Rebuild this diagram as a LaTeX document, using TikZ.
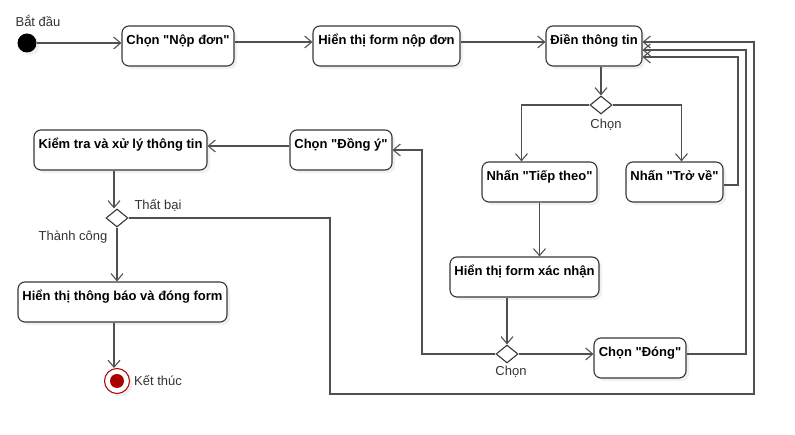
\documentclass[tikz,border=0pt]{standalone}
\usepackage{fontspec}
\setmainfont{Liberation Sans}
\usetikzlibrary{arrows.meta,shapes.geometric,shadows}
\definecolor{ln}{RGB}{80,80,80}
\definecolor{bd}{RGB}{55,55,55}
\definecolor{endred}{RGB}{170,0,0}
\newcommand\qd{\XeTeXglyph\XeTeXglyphindex "quotedbl"\relax}
\tikzset{
  actbox/.style={draw=bd, line width=1.1pt, rounded corners=7pt, fill=white,
    font=\fontsize{13}{15}\selectfont\bfseries, inner xsep=3pt, inner ysep=4pt,
    text height=14.5pt, text depth=17.5pt,
    drop shadow={opacity=0.12, shadow xshift=3pt, shadow yshift=-3pt}},
  dec/.style={draw=bd, line width=1.1pt, diamond, aspect=1.25, inner sep=0pt,
    minimum width=22pt, minimum height=18pt, fill=white},
  lbl/.style={font=\fontsize{13}{15}\selectfont, text=black!80, inner sep=0pt},
  flow/.style={draw=ln, line width=1.2pt, -{Straight Barb[length=7pt,width=12pt,line width=1.1pt]}},
}
\begin{document}
\begin{tikzpicture}[x=1pt,y=-1pt]
\useasboundingbox (0,0) rectangle (795,435);
% nodes
\node[circle, fill=black, minimum size=19pt, inner sep=0pt,
  drop shadow={opacity=0.12, shadow xshift=3pt, shadow yshift=-3pt}] (start) at (27,43) {};
\node[lbl] (startl) at (38,21) {Bắt đầu};
\node[actbox, minimum width=112pt] (nop) at (178,46) {Chọn \qd Nộp đơn\qd};
\node[actbox, minimum width=147pt] (hienform) at (386.5,46) {Hiển thị form nộp đơn};
\node[actbox, minimum width=96pt] (dien) at (594,46) {Điền thông tin};
\node[dec] (d1) at (601,105) {};
\node[lbl] (d1l) at (606,125) {Chọn};
\node[actbox, minimum width=115pt] (tiep) at (539.5,182) {Nhấn \qd Tiếp theo\qd};
\node[actbox, minimum width=97pt] (trove) at (674.5,182) {Nhấn \qd Trở về\qd};
\node[actbox, minimum width=149pt] (xacnhan) at (524.5,277) {Hiển thị form xác nhận};
\node[dec] (d2) at (507,354) {};
\node[lbl] (d2l) at (511,372) {Chọn};
\node[actbox, minimum width=92pt] (dong) at (640,358) {Chọn \qd Đóng\qd};
\node[actbox, minimum width=102pt] (dongy) at (341,150) {Chọn \qd Đồng ý\qd};
\node[actbox, minimum width=173pt] (kiemtra) at (120.5,150) {Kiểm tra và xử lý thông tin};
\node[dec] (d3) at (117,218) {};
\node[lbl] (d3a) at (158,205) {Thất bại};
\node[lbl] (d3b) at (73,237) {Thành công};
\node[actbox, minimum width=209pt] (thongbao) at (122.5,302) {Hiển thị thông báo và đóng form};
\node[circle, draw=endred, line width=1pt, fill=white, minimum size=25pt, inner sep=0pt,
  drop shadow={opacity=0.12, shadow xshift=3pt, shadow yshift=-3pt}] (end) at (117,381) {};
\node[circle, fill=endred, minimum size=14pt, inner sep=0pt] at (end) {};
\node[lbl, anchor=west] (endl) at (134,381) {Kết thúc};
% coordinates for bends
\coordinate (c1) at (738,185);
\coordinate (c2) at (746,354);
\coordinate (c3) at (330,394);
\coordinate (c4) at (754,394);
% edges
\draw[flow] (start.east) -- (nop.west |- start.east);
\draw[flow] ([yshift=4pt]nop.east) -- ([yshift=4pt]hienform.west);
\draw[flow] ([yshift=4pt]hienform.east) -- ([yshift=4pt]dien.west);
\draw[flow] (dien.south -| d1) -- (d1.north);
\draw[flow] (d1.west) -| ([xshift=-18pt]tiep.north);
\draw[flow] (d1.east) -| ([xshift=7pt]trove.north);
\draw[flow] (trove.east |- c1) -- (c1) -- (c1 |- 0,57) -- (dien.east |- 0,57);
\draw[flow] (tiep.south) -- (tiep.south |- xacnhan.north);
\draw[flow] (xacnhan.south -| d2) -- (d2.north);
\draw[flow] (d2.east) -- (dong.west |- d2.east);
\draw[flow] (d2.west) -| (422,150) -- (dongy.east);
\draw[flow] (dong.east |- c2) -- (c2) -- (c2 |- 0,50) -- (dien.east |- 0,50);
\draw[flow] (dongy.west |- 0,146) -- (kiemtra.east |- 0,146);
\draw[flow] (kiemtra.south -| 114,0) -- (d3.north -| 114,0);
\draw[flow] (d3.south) -- (thongbao.north -| d3.south);
\draw[flow] (thongbao.south -| 114,0) -- (end.north -| 114,0);
\draw[flow] (d3.east) -| (c3) -- (c4) -- (c4 |- 0,42) -- (dien.east |- 0,42);
\end{tikzpicture}
\end{document}
